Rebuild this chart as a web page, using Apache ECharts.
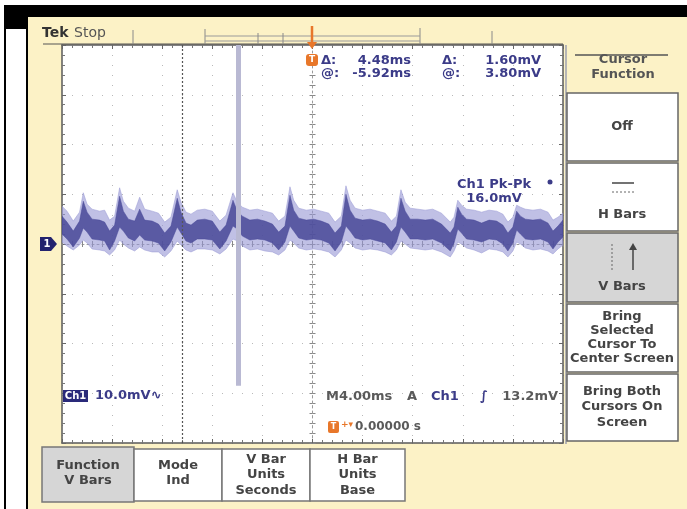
<!DOCTYPE html>
<html><head><meta charset="utf-8">
<script src="https://cdn.jsdelivr.net/npm/echarts@6/dist/echarts.min.js"></script>
<style>html,body{margin:0;padding:0;background:#fff}#c{width:687px;height:509px}</style>
</head><body><div id="c"></div>
<script>
// ---- data (time in ms, voltage in mV) ----
const timeRange = [-20, 20];      // 10 div x 4.00 ms
const timeStep = 4;
const voltRange = [-40, 40];      // 8 div x 10.0 mV
const voltStep = 10;

const traceTime = [
  -20.0,-19.6,-19.1,-18.6,-18.3,-18.0,-17.6,-17.0,
  -16.6,-16.2,-15.8,-15.4,-15.1,-14.7,-14.2,
  -13.8,-13.4,-12.8,-12.3,
  -11.8,-11.3,-10.8,-10.5,-10.1,-9.7,-9.2,-8.6,-8.0,
  -7.4,-6.9,-6.35,-6.0,-5.6,-5.0,-4.4,-3.8,-3.2,
  -2.7,-2.2,-1.8,-1.5,-1.1,-0.5,0.1,0.7,1.3,
  1.8,2.3,2.67,3.0,3.4,4.0,4.6,5.2,5.8,
  6.3,6.7,7.06,7.4,7.8,8.4,9.0,9.6,10.3,
  11.0,11.3,11.6,11.9,12.3,12.9,13.5,14.1,14.7,15.2,
  15.6,16.0,16.3,16.6,17.0,17.6,18.2,18.8,
  19.2,19.6,20.0
];
const outerHigh = [
  7.6,6.6,4.6,6.4,10.3,8.0,7.0,6.6,
  6.8,4.8,5.6,11.3,8.6,7.2,6.6,
  9.4,7.0,6.6,6.2,
  4.4,5.4,10.9,8.4,6.4,6.0,6.8,7.0,6.6,
  4.6,5.8,10.3,8.4,7.4,6.8,7.0,6.6,6.2,
  4.6,5.6,11.5,8.8,7.2,6.8,7.0,6.6,6.2,
  4.4,5.6,11.7,8.8,7.2,6.8,7.0,6.6,6.2,
  4.6,5.6,10.9,8.4,7.2,7.0,6.8,7.0,6.2,
  4.4,5.4,8.8,7.8,7.0,6.8,6.4,6.8,6.6,6.0,
  4.4,5.4,7.8,7.4,7.0,6.8,7.0,6.4,
  4.8,5.4,6.2
];
const innerHigh = [
  5.6,4.4,2.6,4.6,8.6,6.4,5.0,4.8,
  4.4,2.6,3.8,9.6,6.6,5.0,4.6,
  7.0,4.8,4.6,4.0,
  2.2,3.6,9.2,6.4,4.2,3.8,4.8,5.0,4.6,
  2.4,3.8,8.8,6.6,5.6,4.8,5.0,4.6,4.0,
  2.4,3.6,9.8,6.8,5.2,4.8,5.0,4.6,4.0,
  2.2,3.6,10.0,6.8,5.2,4.8,5.0,4.6,4.0,
  2.4,3.6,9.2,6.6,5.0,5.0,4.8,5.0,4.0,
  2.2,3.4,7.4,6.0,5.0,4.8,4.2,4.8,4.6,3.8,
  2.2,3.4,6.6,5.6,5.0,4.8,5.0,4.2,
  2.6,3.6,4.8
];
const innerLow = [
  2.0,1.0,-0.6,1.2,3.2,2.4,1.0,0.8,
  0.6,-1.2,0.6,3.4,2.6,1.2,0.6,
  1.8,0.8,0.6,0.2,
  -1.4,0.4,3.4,2.2,0.6,0.2,1.0,1.0,0.8,
  -1.0,0.6,3.6,3.0,1.6,0.8,1.0,0.8,0.2,
  -1.2,0.4,3.6,2.6,1.2,0.8,1.0,0.8,0.2,
  -1.4,0.4,3.6,2.6,1.2,0.8,1.0,0.6,0.2,
  -1.2,0.4,3.4,2.4,1.0,1.0,0.8,1.0,0.2,
  -1.4,0.2,3.0,2.2,1.0,0.8,0.4,1.0,0.8,0.0,
  -1.4,0.2,2.8,2.0,1.0,0.8,1.0,0.4,
  -1.0,0.4,1.4
];
const outerLow = [
  0.4,-0.4,-1.2,-0.2,0.8,0.2,-1.0,-1.2,
  -1.4,-2.2,-1.2,0.8,0.0,-0.8,-1.4,
  -0.6,-1.2,-1.6,-1.6,
  -2.6,-1.4,0.6,-0.2,-1.2,-1.6,-1.0,-1.0,-1.2,
  -2.0,-1.0,1.0,0.6,-0.4,-1.2,-1.0,-1.4,-1.6,
  -2.2,-1.2,0.8,0.2,-0.8,-1.2,-1.0,-1.2,-1.6,
  -2.6,-1.2,0.8,0.2,-0.8,-1.2,-1.0,-1.2,-1.6,
  -2.2,-1.2,0.6,0.0,-0.8,-1.0,-1.2,-1.0,-1.6,
  -2.6,-1.4,0.4,0.0,-0.8,-1.2,-1.8,-1.0,-1.2,-1.6,
  -2.6,-1.4,0.4,0.0,-0.8,-1.2,-1.0,-1.4,
  -2.0,-1.0,-0.2
];
const cursorDashedTime = -10.4;   // @ cursor minus delta
const cursorSolidTime = -5.92;    // selected cursor
const cursorSolidBottom = -28.5;  // solid cursor stops above readout line

// ---- texts ----
const readoutRows = [["\u0394:", "4.48ms", "\u0394:", "1.60mV"], ["@:", "-5.92ms", "@:", "3.80mV"]];
const sideButtons = ["Off", "H Bars", "V Bars", "Bring\nSelected\nCursor To\nCenter Screen", "Bring Both\nCursors On\nScreen"];
const bottomButtons = ["Function\nV Bars", "Mode\nInd", "V Bar\nUnits\nSeconds", "H Bar\nUnits\nBase"];

const chart = echarts.init(document.getElementById('c'), null, {renderer: 'canvas'});
const FONT = '"DejaVu Sans", Verdana, sans-serif';
const GRID = {left: 62, top: 45, width: 501, height: 398};

function axisBase(min, max, step, extra) {
  return Object.assign({
    type: 'value', min: min, max: max, interval: step,
    axisLabel: {show: false},
    axisLine: {show: true, onZero: false, lineStyle: {color: '#5a5a5a', width: 1.5}},
    axisTick: {show: true, inside: true, length: 4, lineStyle: {color: '#666'}},
    minorTick: {show: true, splitNumber: 5, length: 3, lineStyle: {color: '#777'}},
    splitLine: {show: false}, minorSplitLine: {show: false}
  }, extra || {});
}
const dotted = {show: true, lineStyle: {color: '#b9b9b9', width: 1, type: [1, 9]}};
function centerAxis(min, max, step, inside, showLine) {
  return axisBase(min, max, step, {
    axisLine: {show: showLine, onZero: true, onZeroAxisIndex: 0, lineStyle: {color: '#9a9a9a', width: 1, type: [2, 3]}},
    axisTick: {show: true, inside: inside, length: 3, lineStyle: {color: '#888'}},
    minorTick: {show: true, splitNumber: 5, length: 3, lineStyle: {color: '#888'}}
  });
}

// envelope polygon built from the arrays through the axis scales
function envelopePoints(api, hi, lo) {
  const pts = [];
  for (let i = 0; i < traceTime.length; i++) pts.push(api.coord([traceTime[i], hi[i]]));
  for (let i = traceTime.length - 1; i >= 0; i--) pts.push(api.coord([traceTime[i], lo[i]]));
  return pts;
}

chart.setOption({
  animation: false,
  backgroundColor: 'transparent',
  grid: Object.assign({show: false}, GRID),
  xAxis: [
    axisBase(timeRange[0], timeRange[1], timeStep, {position: 'bottom', splitLine: dotted}),
    axisBase(timeRange[0], timeRange[1], timeStep, {position: 'top'}),
    centerAxis(timeRange[0], timeRange[1], timeStep, false, true),
    centerAxis(timeRange[0], timeRange[1], timeStep, true, false)
  ],
  yAxis: [
    axisBase(voltRange[0], voltRange[1], voltStep, {position: 'left', splitLine: dotted}),
    axisBase(voltRange[0], voltRange[1], voltStep, {position: 'right'}),
    centerAxis(voltRange[0], voltRange[1], voltStep, false, true),
    centerAxis(voltRange[0], voltRange[1], voltStep, true, false)
  ],
  series: [
    {
      name: 'cursors', type: 'line', data: [], z: 1, silent: true,
      markLine: {
        silent: true, symbol: 'none', animation: false, label: {show: false},
        data: [
          [{coord: [cursorDashedTime, voltRange[0]], lineStyle: {color: '#555', width: 1.2, type: [2, 2]}},
           {coord: [cursorDashedTime, voltRange[1]]}],
          [{coord: [cursorSolidTime, cursorSolidBottom], lineStyle: {color: '#b9b9d3', width: 5, type: 'solid'}},
           {coord: [cursorSolidTime, voltRange[1]]}]
        ]
      }
    },
    {
      name: 'Ch1', type: 'custom', coordinateSystem: 'cartesian2d', xAxisIndex: 0, yAxisIndex: 0,
      silent: true, z: 3, clip: true,
      data: [[traceTime[0], outerHigh[0]]],
      renderItem: function (params, api) {
        return {
          type: 'group',
          children: [
            {type: 'polygon', shape: {points: envelopePoints(api, outerHigh, outerLow)},
             style: {fill: 'rgba(150,150,212,0.6)', stroke: 'rgba(150,150,212,0.5)', lineWidth: 1}},
            {type: 'polygon', shape: {points: envelopePoints(api, innerHigh, innerLow)},
             style: {fill: 'rgba(72,72,152,0.85)', stroke: 'rgba(72,72,152,0.6)', lineWidth: 0.8}}
          ]
        };
      }
    }
  ]
});

// ---- instrument chrome (layout decoration) ----
const g = [];
function rect(x, y, w, h, fill, stroke, lw, z, r) {
  g.push({type: 'rect', shape: {x: x, y: y, width: w, height: h, r: r || 0}, style: {fill: fill || 'none', stroke: stroke || null, lineWidth: lw || 0}, z: z === undefined ? -10 : z, silent: true});
}
function line(x1, y1, x2, y2, stroke, lw, dash, z) {
  g.push({type: 'line', shape: {x1: x1, y1: y1, x2: x2, y2: y2}, style: {stroke: stroke, lineWidth: lw || 1, lineDash: dash || null}, z: z === undefined ? 5 : z, silent: true});
}
function txt(x, y, s, size, fill, align, weight, lh, z) {
  g.push({type: 'text', x: x, y: y, style: {text: s, font: (weight || 'bold') + ' ' + size + 'px ' + FONT, fill: fill, align: align || 'left', verticalAlign: 'middle', lineHeight: lh || size + 2}, z: z === undefined ? 20 : z, silent: true});
}

rect(0, 0, 687, 509, '#ffffff', null, 0, -30);
rect(4, 5, 683, 12, '#000', null, 0, -25);
rect(4, 17, 24, 12, '#000', null, 0, -25);
rect(4, 29, 2, 480, '#000', null, 0, -25);
rect(26, 29, 2, 480, '#000', null, 0, -25);
rect(28, 17, 659, 492, '#fcf2c6', null, 0, -25);
rect(GRID.left, GRID.top, GRID.width, GRID.height, '#ffffff', null, 0, -20);
line(43, 44, 563, 44, '#555', 1.2, null, 1);
line(566, 45, 566, 444, '#b5b5b5', 2, null, 1);

// Tek Stop + record view bar
txt(42, 33, 'Tek', 14, '#333', 'left', 'bold');
txt(74, 33, 'Stop', 14, '#555', 'left', 'normal');
line(133, 30, 133, 44, '#8a8a8a', 1);
line(205, 29, 205, 44, '#8a8a8a', 1);
line(420, 28, 420, 44, '#8a8a8a', 1);
line(205, 36, 420, 36, '#9a9a9a', 1);
line(205, 41, 420, 41, '#9a9a9a', 1);
line(258, 33, 258, 44, '#8a8a8a', 1);
line(283, 33, 283, 44, '#8a8a8a', 1);
line(492, 31, 492, 44, '#8a8a8a', 1);
// trigger position marker
line(312, 26, 312, 46, '#e8772a', 2.5, null, 25);
g.push({type: 'polygon', shape: {points: [[307, 42], [317, 42], [312, 49]]}, style: {fill: '#e8772a'}, z: 25, silent: true});
rect(306, 54, 12, 12, '#e8772a', null, 0, 25, 3);
txt(312, 60, 'T', 9, '#fff', 'center', 'bold', 10, 26);

// cursor readouts
readoutRows.forEach(function (row, i) {
  const y = 61 + i * 12.5;
  txt(321, y, row[0], 13, '#3b3b88', 'left');
  txt(411, y, row[1], 13, '#3b3b88', 'right');
  txt(442, y, row[2], 13, '#3b3b88', 'left');
  txt(541, y, row[3], 13, '#3b3b88', 'right');
});

// measurement
txt(494, 185, 'Ch1 Pk-Pk', 13, '#3b3b88', 'center');
txt(494, 199, '16.0mV', 13, '#3b3b88', 'center');
g.push({type: 'circle', shape: {cx: 550, cy: 182, r: 2.5}, style: {fill: '#3b3b88'}, z: 20, silent: true});

// side menu
line(575, 55, 668, 55, '#555', 1.5);
txt(623, 67, 'Cursor\nFunction', 13, '#555', 'center', 'bold', 15);
const sideBoxes = [[93, 68], [163, 68], [233, 69], [304, 68], [374, 67]];
sideBoxes.forEach(function (b, i) {
  rect(567, b[0], 111, b[1], i === 2 ? '#d6d6d6' : '#ffffff', '#666', 1.5, 8);
});
txt(622, 127, sideButtons[0], 13, '#444', 'center');
line(612, 183, 634, 183, '#444', 1.5, null, 12);
line(612, 192, 634, 192, '#666', 1, [2, 2], 12);
txt(622, 215, sideButtons[1], 13, '#444', 'center');
line(612, 244, 612, 270, '#666', 1, [2, 2], 12);
line(633, 245, 633, 270, '#444', 1.5, null, 12);
g.push({type: 'polygon', shape: {points: [[629, 250], [637, 250], [633, 243]]}, style: {fill: '#444'}, z: 12, silent: true});
txt(622, 287, sideButtons[2], 13, '#444', 'center');
txt(622, 338, sideButtons[3], 13, '#444', 'center', 'bold', 14);
txt(622, 407, sideButtons[4], 13, '#444', 'center', 'bold', 15.5);

// bottom menu
const botBoxes = [[42, 447, 92, 55], [134, 449, 88, 52], [222, 449, 88, 52], [310, 449, 95, 52]];
botBoxes.forEach(function (b, i) {
  rect(b[0], b[1], b[2], b[3], i === 0 ? '#d6d6d6' : '#ffffff', '#777', 1.5, 8);
  const lines = bottomButtons[i].split('\n').length;
  txt(b[0] + b[2] / 2, lines === 2 ? 473 : 475, bottomButtons[i], 13, '#444', 'center', 'bold', lines === 2 ? 15 : 15.5);
});

// bottom readouts
rect(63, 390, 25, 12, '#2a2a7a', null, 0, 18);
txt(75.5, 396, 'Ch1', 10, '#fff', 'center', 'bold', 11, 19);
txt(95, 396, '10.0mV\u223F', 13, '#3b3b88', 'left');
txt(326, 397, 'M4.00ms', 13, '#5a5a5a', 'left');
txt(407, 397, 'A', 13, '#5a5a5a', 'left');
txt(431, 397, 'Ch1', 13, '#3b3b88', 'left');
txt(480, 397, '\u222B', 13, '#3b3b88', 'left', 'bold');
txt(558, 397, '13.2mV', 13, '#5a5a5a', 'right');
rect(328, 421, 11, 12, '#e8772a', null, 0, 18, 2);
txt(333.5, 427, 'T', 8, '#fff', 'center', 'bold', 9, 19);
txt(341, 425, '+\u25BE', 9, '#e8772a', 'left', 'bold');
txt(355, 427, '0.00000 s', 12, '#5a5a5a', 'left');

// ground marker at 0 mV
const y0 = chart.convertToPixel({yAxisIndex: 0}, 0);
g.push({type: 'polygon', shape: {points: [[40, y0 - 7], [51, y0 - 7], [57, y0], [51, y0 + 7], [40, y0 + 7]]}, style: {fill: '#23236e'}, z: 20, silent: true});
txt(47, y0, '1', 10, '#fff', 'center', 'bold', 11, 21);

chart.setOption({graphic: g});
</script>
</body></html>
